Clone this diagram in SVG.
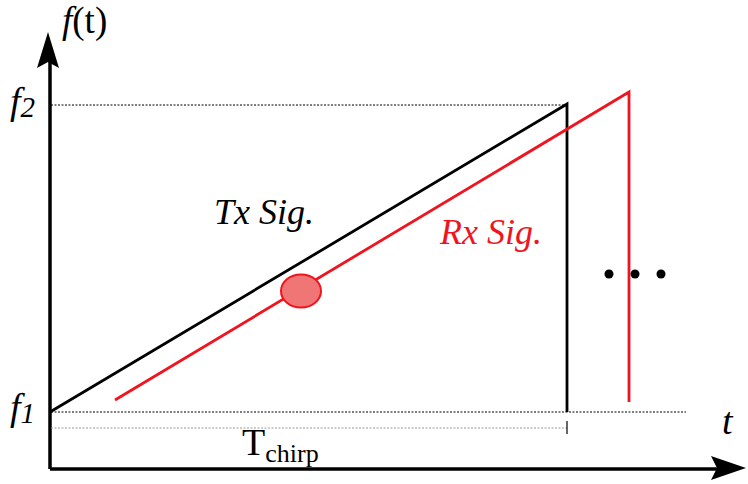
<svg xmlns="http://www.w3.org/2000/svg" width="748" height="484" viewBox="0 0 748 484">
<style>
.ax{stroke:#000;stroke-width:3.5;fill:none}
.dot{stroke:#000;stroke-width:1;stroke-dasharray:2,1.5;fill:none}
.lt{stroke:#999;stroke-width:1;stroke-dasharray:2,1.5;fill:none}
.tx{stroke:#000;stroke-width:2.8;fill:none}
.rx{stroke:#f0141e;stroke-width:2.8;fill:none}
.lbl{font-family:"Liberation Serif",serif;font-style:italic;font-size:36px}
.rm{font-family:"Liberation Serif",serif;font-size:38px}
</style>
<rect width="748" height="484" fill="#fff"/>
<g id="axes">
<path class="ax" d="M50,469 V60 M50,469 H720"/>
<polygon points="48,32 37,68 48,62 59,68" fill="#000"/>
<polygon points="746,468 711,456 717,468 711,480" fill="#000"/>
</g>
<g id="guides">
<path class="dot" d="M51,105 H567"/>
<path class="dot" d="M51,412 H686"/>
<path class="lt" d="M51,428 H567"/>
<path stroke="#000" stroke-width="1.2" d="M567,421 V434"/>
</g>
<g id="tx">
<path class="tx" d="M50,412 L567,104 V412"/>
<text class="lbl" x="214" y="224">Tx Sig.</text>
</g>
<g id="rx">
<path class="rx" d="M115,400 L629,92 V402"/>
<text class="lbl" x="440" y="244" fill="#f0141e">Rx Sig.</text>
</g>
<g id="marker">
<ellipse cx="301" cy="291" rx="20" ry="16.5" fill="#f07575" stroke="#f0141e" stroke-width="2"/>
</g>
<g id="dots" fill="#000">
<circle cx="609" cy="274" r="4.5"/>
<circle cx="635" cy="274" r="4.5"/>
<circle cx="661" cy="274" r="4.5"/>
</g>
<g id="labels">
<text x="62" y="33" style="font-family:'Liberation Serif',serif;font-size:37px"><tspan font-style="italic">f</tspan>(t)</text>
<text class="lbl" x="10" y="114" style="font-size:38px">f<tspan style="font-size:29px" dy="3">2</tspan></text>
<text class="lbl" x="10" y="420" style="font-size:38px">f<tspan style="font-size:29px" dy="3">1</tspan></text>
<text class="lbl" x="722" y="434" style="font-size:38px">t</text>
<text class="rm" x="242" y="455">T<tspan style="font-size:26px" dy="7">chirp</tspan></text>
</g>
</svg>
